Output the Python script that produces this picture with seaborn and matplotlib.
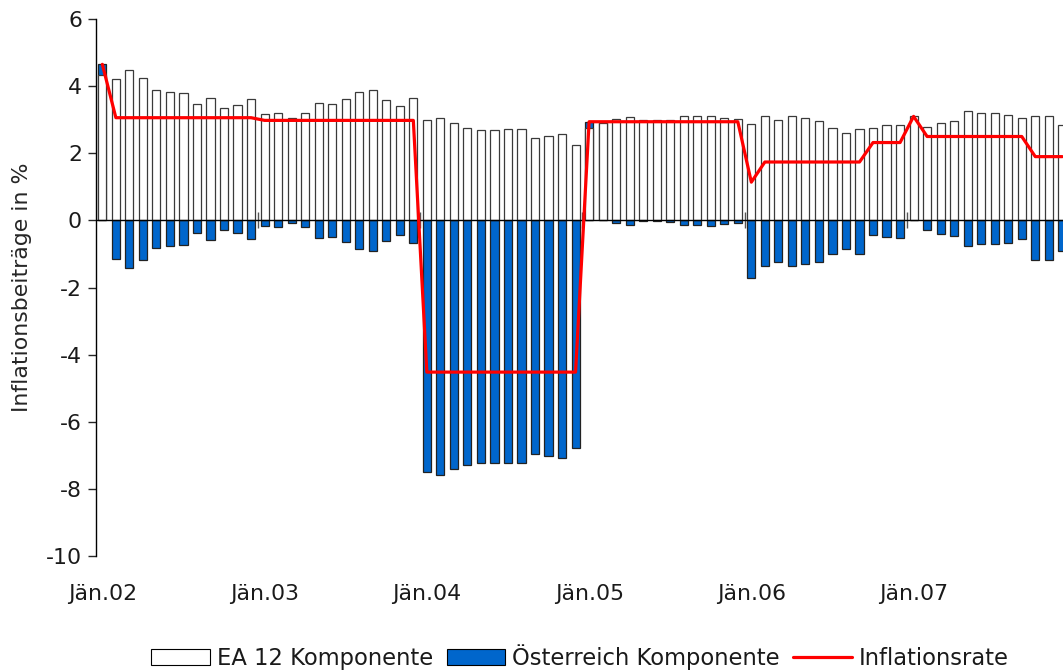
import numpy as np
import pandas as pd
import matplotlib
matplotlib.use("Agg")
import matplotlib.pyplot as plt
from matplotlib.patches import Patch
from matplotlib.lines import Line2D
import seaborn as sns

# Monatswerte Jän.02 - Dez.07
monat = list(range(72))
tick_pos = [0, 12, 24, 36, 48, 60]
tick_labels = ["Jän.02", "Jän.03", "Jän.04", "Jän.05", "Jän.06", "Jän.07"]

ea12 = [4.34, 4.22, 4.48, 4.25, 3.90, 3.82, 3.80, 3.47, 3.65, 3.34, 3.44, 3.61,
        3.18, 3.21, 3.06, 3.19, 3.49, 3.46, 3.62, 3.83, 3.89, 3.58, 3.41, 3.65,
        2.98, 3.06, 2.91, 2.76, 2.70, 2.70, 2.72, 2.71, 2.46, 2.50, 2.57, 2.25,
        2.76, 2.90, 3.03, 3.08, 2.98, 2.98, 3.00, 3.10, 3.10, 3.12, 3.06, 3.03,
        2.88, 3.12, 2.98, 3.10, 3.06, 2.96, 2.76, 2.60, 2.72, 2.75, 2.83, 2.85,
        3.10, 2.78, 2.89, 2.96, 3.27, 3.21, 3.19, 3.15, 3.06, 3.10, 3.12, 2.83]

oesterreich = [0.32, -1.14, -1.41, -1.17, -0.83, -0.75, -0.72, -0.38, -0.58, -0.28, -0.37, -0.54,
               -0.18, -0.21, -0.07, -0.20, -0.52, -0.48, -0.65, -0.84, -0.90, -0.60, -0.43, -0.67,
               -7.51, -7.59, -7.42, -7.28, -7.22, -7.22, -7.23, -7.23, -6.97, -7.02, -7.09, -6.77,
               0.18, 0.02, -0.08, -0.13, -0.01, -0.02, -0.04, -0.14, -0.14, -0.17, -0.11, -0.09,
               -1.72, -1.37, -1.25, -1.36, -1.31, -1.23, -1.01, -0.86, -0.99, -0.42, -0.50, -0.52,
               0.00, -0.28, -0.40, -0.46, -0.77, -0.71, -0.69, -0.66, -0.55, -1.18, -1.19, -0.91]

inflationsrate = [4.65, 3.06, 3.06, 3.06, 3.06, 3.06, 3.06, 3.06, 3.06, 3.06, 3.06, 3.06,
                  2.98, 2.98, 2.98, 2.98, 2.98, 2.98, 2.98, 2.98, 2.98, 2.98, 2.98, 2.98,
                  -4.52, -4.52, -4.52, -4.52, -4.52, -4.52, -4.52, -4.52, -4.52, -4.52, -4.52, -4.52,
                  2.94, 2.94, 2.94, 2.94, 2.94, 2.94, 2.94, 2.94, 2.94, 2.94, 2.94, 2.94,
                  1.14, 1.74, 1.74, 1.74, 1.74, 1.74, 1.74, 1.74, 1.74, 2.32, 2.32, 2.32,
                  3.10, 2.50, 2.50, 2.50, 2.50, 2.50, 2.50, 2.50, 2.50, 1.90, 1.90, 1.90]

BLAU = "#0066CC"
ROT = "#FF0000"

df = pd.DataFrame({"monat": monat, "ea": ea12, "at": oesterreich, "rate": inflationsrate})
# gestapelt: positive AT-Beiträge liegen oberhalb der EA-Säule
df["at_top"] = np.where(df["at"] > 0, df["ea"] + df["at"], df["at"])

sns.set_style("ticks")
plt.rcParams["font.family"] = ["DejaVu Sans"]
plt.rcParams["axes.unicode_minus"] = False
plt.rcParams["text.color"] = "#1a1a1a"
plt.rcParams["xtick.labelcolor"] = "#1a1a1a"
plt.rcParams["ytick.labelcolor"] = "#1a1a1a"

fig = plt.figure(figsize=(10.63, 6.70), dpi=100)
ax = fig.add_axes([0.0903, 0.1701, 0.9097, 0.8015])

sns.barplot(data=df, x="monat", y="at_top", native_scale=True, color=BLAU, saturation=1,
            width=0.6, edgecolor="#222222", linewidth=0.9, ax=ax)
sns.barplot(data=df, x="monat", y="ea", native_scale=True, color="white", saturation=1,
            width=0.6, edgecolor="#3a3a3a", linewidth=0.9, ax=ax)
ax.axhline(0, color="black", lw=1.0, zorder=2)
sns.lineplot(data=df, x="monat", y="rate", color=ROT, linewidth=2.3, ax=ax, zorder=4)

ax.set_xlim(-0.47, 71.05)
ax.set_ylim(-10, 6)
ax.set_yticks(range(-10, 7, 2))
ax.set_xticks(tick_pos)
ax.set_xticklabels(tick_labels)
ax.tick_params(axis="x", length=0, pad=20, labelsize=15.8)
ax.tick_params(axis="y", length=6, width=1, pad=4, labelsize=15.8, direction="out")
ax.set_xlabel("")
ax.set_ylabel("Inflationsbeiträge in %", fontsize=15.8)
ax.yaxis.set_label_coords(-0.066, 0.5)

for s in ["top", "right", "bottom"]:
    ax.spines[s].set_visible(False)
ax.spines["left"].set_linewidth(1)
ax.spines["left"].set_color("black")

# Jahresmarken auf der Nulllinie
sec = ax.secondary_xaxis(0.625)
sec.set_xticks([11.5, 23.5, 35.5, 47.5, 59.5])
sec.set_xticklabels([])
sec.tick_params(axis="x", direction="inout", length=11, width=1, color="#555555")
sec.spines["bottom"].set_visible(False)
sec.spines["top"].set_visible(False)

handles = [Patch(facecolor="white", edgecolor="black", linewidth=0.8),
           Patch(facecolor=BLAU, edgecolor="black", linewidth=0.8),
           Line2D([0], [0], color=ROT, linewidth=2.3)]
fig.legend(handles, ["EA 12 Komponente", "Österreich Komponente", "Inflationsrate"],
           loc="center", bbox_to_anchor=(0.5457, 0.0194), ncol=3, frameon=False,
           fontsize=16.3, handlelength=2.6, handleheight=0.75, handletextpad=0.3,
           columnspacing=0.6, borderpad=0)

fig.savefig("out.png", dpi=100)
